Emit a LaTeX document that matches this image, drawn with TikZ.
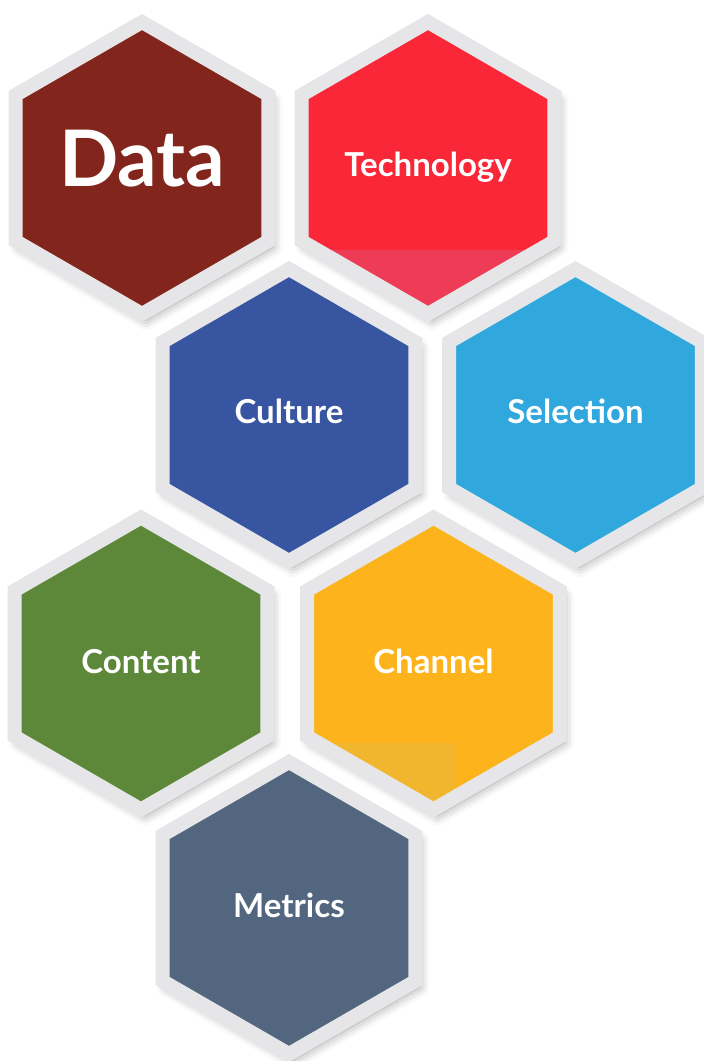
\documentclass[tikz,border=0pt]{standalone}
\usepackage{fontspec}
\setsansfont{Lato}
\usetikzlibrary{shapes.geometric,shadows.blur}
\definecolor{hexrim}{HTML}{E6E6E8}
\definecolor{cdata}{HTML}{82251C}
\definecolor{ctech}{HTML}{F92738}
\definecolor{ctechlo}{HTML}{EE3C56}
\definecolor{cculture}{HTML}{3755A0}
\definecolor{cselect}{HTML}{30A8DE}
\definecolor{ccontent}{HTML}{5D883A}
\definecolor{cchannel}{HTML}{FDB41C}
\definecolor{cchannello}{HTML}{F2B62E}
\definecolor{cmetrics}{HTML}{52677F}

\begin{document}
\begin{tikzpicture}[x=1pt,y=1pt,
  every node/.style={inner sep=0pt,outer sep=0pt},%
  hx/.style={regular polygon,regular polygon sides=6,shape border rotate=90,%
    minimum size=292pt,draw=hexrim,line width=14pt,%
    blur shadow={shadow xshift=4pt,shadow yshift=-6pt,shadow blur radius=10pt,shadow opacity=40}},%
  lb/.style={anchor=base,text=white,font=\sffamily\bfseries\fontsize{33}{33}\selectfont},%
  big/.style={lb,font=\sffamily\bfseries\fontsize{78}{78}\selectfont},%
  ]
  \useasboundingbox (0,0) rectangle (704,1061);

  \node (data) [hx,fill=cdata] at (142,893) {};
  \node (tech) [hx,fill=ctech,%
    path picture={\fill[ctechlo] (path picture bounding box.south west) rectangle ([yshift=-82pt]path picture bounding box.east);}%
  ] at (428,893) {};

  \node (culture) [hx,fill=cculture] at (289,646) {};
  \node (select) [hx,fill=cselect] at (575.5,646) {};

  \node (content) [hx,fill=ccontent] at (141,397.5) {};
  \node (channel) [hx,fill=cchannel,%
    path picture={\fill[cchannello] (path picture bounding box.south west) rectangle ([xshift=21.5pt,yshift=-79.5pt]path picture bounding box.center);}%
  ] at (433.5,397.5) {};

  \node (metrics) [hx,fill=cmetrics] at (289,153) {};

  % labels
  \node (data-l) [big] at ([yshift=-19pt]data.center) {Data};
  \node (tech-l) [lb] at ([yshift=-9pt]tech.center) {Technology};
  \node (culture-l) [lb] at ([yshift=-9pt]culture.center) {Culture};
  \node (select-l) [lb] at ([yshift=-9pt]select.center) {Selection};
  \node (content-l) [lb] at ([yshift=-10pt]content.center) {Content};
  \node (channel-l) [lb] at ([yshift=-10pt]channel.center) {Channel};
  \node (metrics-l) [lb] at ([yshift=-10pt]metrics.center) {Metrics};
\end{tikzpicture}
\end{document}
